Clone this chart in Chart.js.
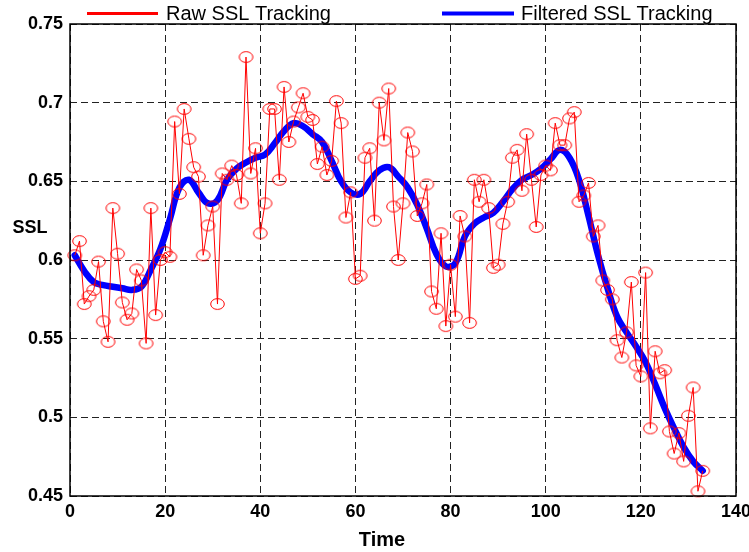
<!DOCTYPE html>
<html>
<head>
<meta charset="utf-8">
<script src="https://cdn.jsdelivr.net/npm/chart.js@4.4.1/dist/chart.umd.min.js"></script>
<style>
  html, body { margin: 0; padding: 0; background: #fff; }
  #wrap { width: 749px; height: 552px; }
</style>
</head>
<body>
<div id="wrap"><canvas id="sslChart" width="749" height="552"></canvas></div>
<script>
// === DATA ===
const seriesLabels = ['Raw SSL Tracking', 'Filtered SSL Tracking'];

// raw SSL, one sample per time step 1..133
const rawSSL = [
  0.603, 0.612, 0.572, 0.577, 0.581, 0.599, 0.561, 0.548, 0.633, 0.604,
  0.573, 0.562, 0.566, 0.594, 0.587, 0.547, 0.633, 0.565, 0.600, 0.605,
  0.602, 0.688, 0.642, 0.696, 0.677, 0.659, 0.653, 0.603, 0.622, 0.634,
  0.572, 0.655, 0.651, 0.660, 0.654, 0.636, 0.729, 0.655, 0.671, 0.617,
  0.636, 0.696, 0.696, 0.651, 0.710, 0.675, 0.688, 0.697, 0.706, 0.691,
  0.689, 0.661, 0.672, 0.654, 0.663, 0.701, 0.687, 0.627, 0.643, 0.588,
  0.590, 0.665, 0.671, 0.625, 0.700, 0.676, 0.709, 0.634, 0.600, 0.636,
  0.681, 0.669, 0.628, 0.636, 0.648, 0.580, 0.569, 0.617, 0.558, 0.597,
  0.564, 0.628, 0.615, 0.560, 0.651, 0.637, 0.651, 0.633, 0.595, 0.597,
  0.623, 0.637, 0.665, 0.670, 0.644, 0.680, 0.651, 0.621, 0.654, 0.660,
  0.657, 0.687, 0.673, 0.673, 0.690, 0.694, 0.637, 0.641, 0.649, 0.615,
  0.622, 0.587, 0.581, 0.575, 0.549, 0.538, 0.554, 0.586, 0.533, 0.526,
  0.592, 0.493, 0.542, 0.528, 0.530, 0.491, 0.477, 0.490, 0.472, 0.501,
  0.519, 0.453, 0.466
];
const rawTime = rawSSL.map((_, i) => i + 1);

// filtered SSL, read at every other time step (1, 3, 5 ... 133)
const filteredSSL = [
  0.603, 0.593, 0.586, 0.584, 0.583, 0.582, 0.581, 0.583, 0.594, 0.607,
  0.626, 0.646, 0.651, 0.643, 0.636, 0.638, 0.651, 0.658, 0.662, 0.665,
  0.667, 0.674, 0.682, 0.687, 0.685, 0.680, 0.675, 0.663, 0.650, 0.643,
  0.642, 0.650, 0.657, 0.659, 0.653, 0.646, 0.635, 0.620, 0.604, 0.596,
  0.598, 0.615, 0.623, 0.627, 0.630, 0.637, 0.645, 0.651, 0.654, 0.658,
  0.664, 0.670, 0.665, 0.651, 0.628, 0.603, 0.582, 0.564, 0.554, 0.545,
  0.535, 0.521, 0.506, 0.493, 0.481, 0.472, 0.466
];
const filteredTime = filteredSSL.map((_, i) => 1 + 2 * i);

const xTicks = [0, 20, 40, 60, 80, 100, 120, 140];
const yTicks = [0.45, 0.5, 0.55, 0.6, 0.65, 0.7, 0.75];

// === STYLE ===
const FONT = '"Liberation Sans", Arial, Helvetica, sans-serif';
const RED = '#ff0000';
const BLUE = '#0000ff';

// open ellipse marker (MATLAB draws the circles a bit squashed)
function makeRing(rx, ry, color) {
  const c = document.createElement('canvas');
  c.width = Math.ceil(rx * 2 + 3);
  c.height = Math.ceil(ry * 2 + 3);
  const g = c.getContext('2d');
  g.strokeStyle = color;
  g.lineWidth = 1;
  g.beginPath();
  g.ellipse(c.width / 2, c.height / 2, rx, ry, 0, 0, Math.PI * 2);
  g.stroke();
  return c;
}

// === FRAME, LEGEND, AXIS NAMES ===
const framePlugin = {
  id: 'frame',
  afterDraw(chart) {
    const { ctx, chartArea: a } = chart;
    ctx.save();
    ctx.setLineDash([]);
    ctx.strokeStyle = '#000';
    ctx.lineWidth = 1.5;
    ctx.strokeRect(a.left, a.top, a.right - a.left, a.bottom - a.top);

    // legend row above the box
    const items = [
      { lineFrom: 87, lineTo: 158, textX: 166, width: 3 },
      { lineFrom: 442, lineTo: 514, textX: 521, width: 4 }
    ];
    ctx.font = '20px ' + FONT;
    ctx.textBaseline = 'middle';
    ctx.textAlign = 'left';
    items.forEach((it, i) => {
      const ds = chart.data.datasets[i];
      ctx.strokeStyle = ds.borderColor;
      ctx.lineWidth = it.width;
      ctx.beginPath();
      ctx.moveTo(it.lineFrom, 13.5);
      ctx.lineTo(it.lineTo, 13.5);
      ctx.stroke();
      ctx.fillStyle = '#000';
      ctx.fillText(ds.label, it.textX, 14);
    });

    // axis names
    ctx.font = 'bold 18px ' + FONT;
    ctx.textAlign = 'center';
    ctx.fillText('SSL', 30, 228);
    ctx.font = 'bold 20px ' + FONT;
    ctx.fillText('Time', 382, 540);
    ctx.restore();
  }
};

// === CHART ===
const ctx = document.getElementById('sslChart').getContext('2d');

new Chart(ctx, {
  type: 'line',
  data: {
    datasets: [
      {
        label: seriesLabels[0],
        data: rawTime.map((t, i) => ({ x: t, y: rawSSL[i] })),
        borderColor: RED,
        borderWidth: 1,
        pointStyle: makeRing(6.8, 5.4, RED),
        pointRadius: 6,
        tension: 0,
        clip: false,
        order: 0
      },
      {
        label: seriesLabels[1],
        data: filteredTime.map((t, i) => ({ x: t, y: filteredSSL[i] })),
        borderColor: BLUE,
        borderWidth: 6.5,
        borderCapStyle: 'round',
        borderJoinStyle: 'round',
        pointRadius: 0,
        tension: 0.4,
        order: 1
      }
    ]
  },
  options: {
    responsive: false,
    animation: false,
    devicePixelRatio: 1,
    layout: { padding: { left: 0, right: 13, top: 24, bottom: 0 } },
    plugins: {
      legend: { display: false },
      tooltip: { enabled: false }
    },
    scales: {
      x: {
        type: 'linear',
        min: 0,
        max: 140,
        afterBuildTicks: (s) => { s.ticks = xTicks.map(v => ({ value: v })); },
        afterFit: (s) => { s.height = 56; s.paddingLeft = 0; s.paddingRight = 0; },
        ticks: {
          color: '#000',
          padding: 5,
          maxRotation: 0,
          autoSkip: false,
          font: { family: FONT, size: 18, weight: 'bold' }
        },
        grid: { color: '#222', lineWidth: 1, drawTicks: false },
        border: { display: false, dash: [7, 4] }
      },
      y: {
        type: 'linear',
        min: 0.45,
        max: 0.75,
        afterBuildTicks: (s) => { s.ticks = yTicks.map(v => ({ value: v })); },
        afterFit: (s) => { s.width = 70; s.paddingTop = 0; s.paddingBottom = 0; },
        ticks: {
          color: '#000',
          padding: 7,
          font: { family: FONT, size: 18, weight: 'bold' },
          callback: (v) => String(parseFloat(Number(v).toFixed(2)))
        },
        grid: { color: '#222', lineWidth: 1, drawTicks: false },
        border: { display: false, dash: [7, 4] }
      }
    }
  },
  plugins: [framePlugin]
});
</script>
</body>
</html>
